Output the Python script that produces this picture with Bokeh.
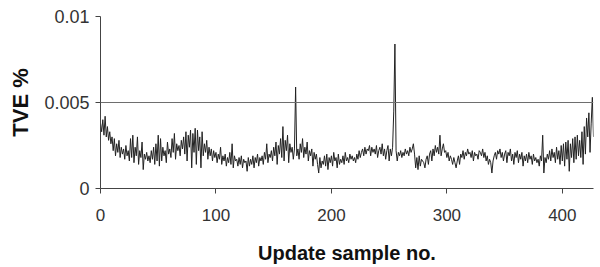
from bokeh.plotting import figure
from bokeh.models import Range1d, FixedTicker, CustomJSTickFormatter, Span
from bokeh.embed import file_html
from bokeh.resources import INLINE

# TVE % for each update sample
tve = [
    0.0038, 0.0033, 0.0040, 0.0031, 0.0042, 0.0030, 0.0036, 0.0028, 0.0033, 0.0026,
    0.0030, 0.0022, 0.0029, 0.0019, 0.0026, 0.0021, 0.0028, 0.0018, 0.0024, 0.0020,
    0.0023, 0.0017, 0.0025, 0.0019, 0.0022, 0.0016, 0.0029, 0.0018, 0.0031, 0.0015,
    0.0024, 0.0019, 0.0030, 0.0014, 0.0022, 0.0018, 0.0027, 0.0011, 0.0020, 0.0017,
    0.0021, 0.0016, 0.0019, 0.0015, 0.0022, 0.0017, 0.0024, 0.0014, 0.0026, 0.0016,
    0.0031, 0.0013, 0.0029, 0.0016, 0.0024, 0.0019, 0.0022, 0.0015, 0.0027, 0.0020,
    0.0023, 0.0018, 0.0029, 0.0021, 0.0032, 0.0017, 0.0026, 0.0022, 0.0025, 0.0019,
    0.0028, 0.0023, 0.0030, 0.0020, 0.0033, 0.0016, 0.0031, 0.0024, 0.0034, 0.0012,
    0.0032, 0.0021, 0.0035, 0.0014, 0.0034, 0.0022, 0.0030, 0.0012, 0.0033, 0.0019,
    0.0026, 0.0021, 0.0028, 0.0017, 0.0024, 0.0019, 0.0023, 0.0016, 0.0022, 0.0018,
    0.0021, 0.0015, 0.0020, 0.0017, 0.0024, 0.0014, 0.0019, 0.0016, 0.0020, 0.0013,
    0.0018, 0.0015, 0.0021, 0.0014, 0.0026, 0.0012, 0.0019, 0.0016, 0.0017, 0.0013,
    0.0018, 0.0014, 0.0019, 0.0012, 0.0017, 0.0015, 0.0016, 0.0010, 0.0018, 0.0013,
    0.0017, 0.0014, 0.0019, 0.0012, 0.0018, 0.0015, 0.0020, 0.0013, 0.0018, 0.0016,
    0.0019, 0.0014, 0.0021, 0.0017, 0.0026, 0.0015, 0.0020, 0.0018, 0.0022, 0.0016,
    0.0024, 0.0019, 0.0027, 0.0014, 0.0025, 0.0020, 0.0029, 0.0018, 0.0036, 0.0016,
    0.0028, 0.0022, 0.0031, 0.0015, 0.0026, 0.0021, 0.0024, 0.0017, 0.0023, 0.0059,
    0.0019, 0.0023, 0.0017, 0.0026, 0.0021, 0.0029, 0.0018, 0.0024, 0.0020, 0.0027,
    0.0016, 0.0022, 0.0019, 0.0023, 0.0013, 0.0021, 0.0017, 0.0020, 0.0014, 0.0009,
    0.0018, 0.0012, 0.0016, 0.0014, 0.0019, 0.0013, 0.0020, 0.0011, 0.0018, 0.0015,
    0.0019, 0.0013, 0.0021, 0.0016, 0.0018, 0.0012, 0.0020, 0.0014, 0.0017, 0.0015,
    0.0019, 0.0014, 0.0021, 0.0016, 0.0018, 0.0015, 0.0020, 0.0017, 0.0019, 0.0016,
    0.0018, 0.0015, 0.0020, 0.0017, 0.0022, 0.0018, 0.0021, 0.0023, 0.0019, 0.0024,
    0.0020, 0.0023, 0.0022, 0.0025, 0.0019, 0.0024, 0.0021, 0.0023, 0.0020, 0.0025,
    0.0018, 0.0022, 0.0024, 0.0020, 0.0026, 0.0019, 0.0023, 0.0017, 0.0022, 0.0025,
    0.0016, 0.0023, 0.0019, 0.0024, 0.0045, 0.0084, 0.0022, 0.0016, 0.0021, 0.0019,
    0.0022, 0.0018, 0.0021, 0.0019, 0.0023, 0.0020, 0.0022, 0.0019, 0.0024, 0.0021,
    0.0023, 0.0026, 0.0020, 0.0012, 0.0018, 0.0011, 0.0019, 0.0013, 0.0017, 0.0016,
    0.0015, 0.0012, 0.0017, 0.0019, 0.0014, 0.0020, 0.0022, 0.0016, 0.0023, 0.0019,
    0.0025, 0.0021, 0.0024, 0.0020, 0.0031, 0.0019, 0.0023, 0.0026, 0.0021, 0.0022,
    0.0018, 0.0021, 0.0016, 0.0019, 0.0017, 0.0014, 0.0018, 0.0015, 0.0012, 0.0016,
    0.0019, 0.0014, 0.0020, 0.0018, 0.0022, 0.0017, 0.0021, 0.0019, 0.0023, 0.0020,
    0.0021, 0.0018, 0.0022, 0.0016, 0.0021, 0.0019, 0.0020, 0.0017, 0.0022, 0.0021,
    0.0019, 0.0023, 0.0018, 0.0021, 0.0016, 0.0019, 0.0014, 0.0017, 0.0015, 0.0009,
    0.0016, 0.0019, 0.0021, 0.0017, 0.0022, 0.0020, 0.0023, 0.0018, 0.0021, 0.0016,
    0.0020, 0.0022, 0.0015, 0.0021, 0.0019, 0.0023, 0.0016, 0.0020, 0.0014, 0.0021,
    0.0018, 0.0022, 0.0015, 0.0020, 0.0017, 0.0021, 0.0013, 0.0019, 0.0016, 0.0020,
    0.0015, 0.0021, 0.0017, 0.0019, 0.0014, 0.0020, 0.0016, 0.0018, 0.0015, 0.0017,
    0.0013, 0.0019, 0.0016, 0.0031, 0.0009, 0.0018, 0.0015, 0.0020, 0.0017, 0.0022,
    0.0016, 0.0023, 0.0018, 0.0021, 0.0015, 0.0024, 0.0017, 0.0022, 0.0014, 0.0025,
    0.0016, 0.0026, 0.0013, 0.0027, 0.0017, 0.0028, 0.0010, 0.0026, 0.0018, 0.0029,
    0.0015, 0.0030, 0.0017, 0.0031, 0.0019, 0.0028, 0.0018, 0.0033, 0.0014, 0.0036,
    0.0020, 0.0041, 0.0030, 0.0044, 0.0021, 0.0038, 0.0053, 0.0030,
]
samples = list(range(len(tve)))

limit = 0.005
x_ticks = [0, 100, 200, 300, 400]
y_ticks = [0, 0.005, 0.01]

FONT = "Liberation Sans"

p = figure(width=598, height=267, output_backend="svg", toolbar_location=None,
           x_range=Range1d(0, 427), y_range=Range1d(0, 0.01),
           min_border_left=100, min_border_right=5, min_border_top=16, min_border_bottom=79)
p.outline_line_color = None
p.xgrid.visible = False
p.ygrid.visible = False
p.background_fill_color = "white"
p.border_fill_color = "white"

p.add_layout(Span(location=limit, dimension="width", line_color="#6e6e6e", line_width=1))
p.line(samples, tve, line_color="#222222", line_width=1)

for ax in (p.xaxis[0], p.yaxis[0]):
    ax.axis_line_color = "#444444"
    ax.major_tick_line_color = "#444444"
    ax.major_tick_in = 0
    ax.major_tick_out = 5
    ax.minor_tick_line_color = None
    ax.major_label_text_font = FONT
    ax.major_label_text_font_size = "17px"
    ax.major_label_text_color = "#333333"
    ax.axis_label_text_font = FONT
    ax.axis_label_text_font_style = "bold"
    ax.axis_label_text_color = "#111111"

p.xaxis.ticker = FixedTicker(ticks=x_ticks)
p.yaxis.ticker = FixedTicker(ticks=y_ticks)
p.yaxis.formatter = CustomJSTickFormatter(code="return String(+tick.toFixed(4));")
p.yaxis.major_label_text_font_size = "18px"

p.xaxis.axis_label = "Update sample no."
p.xaxis.axis_label_text_font_size = "20px"
p.xaxis.major_label_standoff = 15
p.xaxis.axis_label_standoff = 18

p.yaxis.axis_label = "TVE %"
p.yaxis.axis_label_text_font_size = "22px"
p.yaxis.major_label_standoff = 6
p.yaxis.axis_label_standoff = 8

open("out.html", "w").write(file_html(p, INLINE))
